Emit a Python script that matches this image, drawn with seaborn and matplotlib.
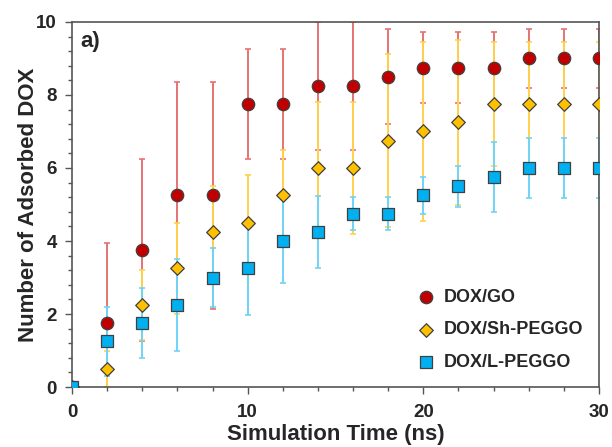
import matplotlib
matplotlib.use("Agg")
import matplotlib.pyplot as plt
import seaborn as sns
import pandas as pd

# simulation time (ns)
time = [0, 2, 4, 6, 8, 10, 12, 14, 16, 18, 20, 22, 24, 26, 28, 30]

# mean number of adsorbed DOX and error bars
go_mean = [0, 1.75, 3.75, 5.25, 5.25, 7.75, 7.75, 8.25, 8.25, 8.5, 8.75, 8.75, 8.75, 9.0, 9.0, 9.0]
go_err = [0, 2.2, 2.5, 3.1, 3.1, 1.5, 1.5, 1.75, 1.75, 1.3, 0.97, 0.97, 0.97, 0.8, 0.8, 0.8]

sh_mean = [0, 0.5, 2.25, 3.25, 4.25, 4.5, 5.25, 6.0, 6.0, 6.75, 7.0, 7.25, 7.75, 7.75, 7.75, 7.75]
sh_err = [0, 0.5, 0.95, 1.25, 1.25, 1.3, 1.25, 1.8, 1.8, 2.37, 2.45, 2.25, 1.7, 1.7, 1.7, 1.7]

l_mean = [0, 1.25, 1.75, 2.25, 3.0, 3.25, 4.0, 4.25, 4.75, 4.75, 5.25, 5.5, 5.75, 6.0, 6.0, 6.0]
l_err = [0, 0.95, 0.95, 1.27, 0.82, 1.28, 1.16, 0.98, 0.46, 0.46, 0.5, 0.56, 0.95, 0.82, 0.82, 0.82]

labels = ["DOX/GO", "DOX/Sh-PEGGO", "DOX/L-PEGGO"]
colors = ["#C00000", "#FFC000", "#00B0F0"]
err_colors = ["#E57373", "#FFD24D", "#6FD3F7"]
markers = ["o", "D", "s"]
sizes = [80, 48, 72]

rows = []
for lab, m, e in zip(labels, [go_mean, sh_mean, l_mean], [go_err, sh_err, l_err]):
    for t, v, er in zip(time, m, e):
        rows.append({"time": t, "value": v, "err": er, "system": lab})
df = pd.DataFrame(rows)

sns.set_style("ticks")
plt.rcParams["font.family"] = ["Liberation Sans", "DejaVu Sans"]
plt.rcParams["font.weight"] = "bold"

fig = plt.figure(figsize=(6.12, 4.47), dpi=100)
ax = fig.add_axes([0.1176, 0.134, 0.8611, 0.817])

for lab, ec in zip(labels, err_colors):
    d = df[df["system"] == lab]
    ax.errorbar(d["time"], d["value"], yerr=d["err"], fmt="none", ecolor=ec,
                elinewidth=1.4, capsize=2, capthick=1.2, zorder=2)

for lab, c, mk, s in zip(labels, colors, markers, sizes):
    d = df[df["system"] == lab]
    sns.scatterplot(data=d, x="time", y="value", ax=ax, color=c, marker=mk, s=s,
                    edgecolor="#404040", linewidth=0.9, label=lab, zorder=3)

ax.set_xlim(0, 30)
ax.set_ylim(0, 10)
ax.set_xticks(range(0, 31, 10))
ax.set_xticks(range(0, 31, 2), minor=True)
ax.set_yticks(range(0, 11, 2))
ax.set_yticks([i * 0.4 for i in range(26)], minor=True)
ax.tick_params(axis="both", which="major", labelsize=13.5, length=5, width=1, color="#555555")
ax.tick_params(axis="both", which="minor", length=3, width=1, color="#555555")
ax.tick_params(axis="x", which="major", pad=7)
ax.tick_params(axis="y", which="major", pad=6)
for sp in ax.spines.values():
    sp.set_color("#555555")
    sp.set_linewidth(1.2)
for lbl in ax.get_xticklabels() + ax.get_yticklabels():
    lbl.set_fontweight("bold")

ax.set_xlabel("Simulation Time (ns)", fontsize=16, fontweight="bold", labelpad=2)
ax.set_ylabel("Number of Adsorbed DOX", fontsize=16, fontweight="bold", labelpad=-2.5)
ax.text(0.016, 0.975, "a)", transform=ax.transAxes, fontsize=16, fontweight="bold",
        va="top", ha="left")

leg = ax.legend(loc="lower right", frameon=False, prop={"size": 13, "weight": "bold"},
                handletextpad=0.0, labelspacing=0.85, borderaxespad=0.3,
                bbox_to_anchor=(0.995, 0.01))

fig.savefig("out.png", dpi=100)
